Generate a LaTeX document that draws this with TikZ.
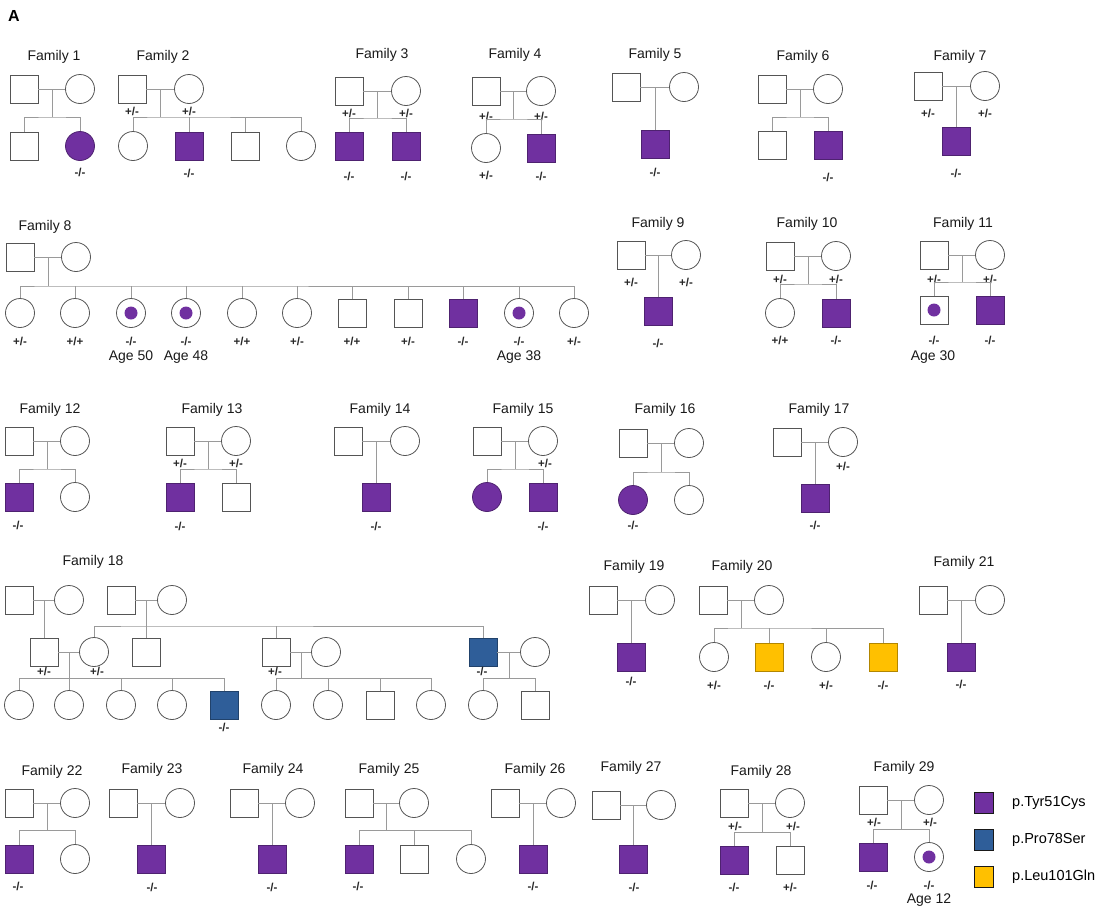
\documentclass[tikz,border=0pt]{standalone}
\usepackage{fontspec}
\setmainfont{Liberation Sans}
\usetikzlibrary{calc}

\definecolor{ctyr}{HTML}{7030A0}
\definecolor{cpro}{HTML}{2F5E99}
\definecolor{cleu}{HTML}{FFC000}
\definecolor{cedge}{HTML}{555555}
\definecolor{cwire}{HTML}{9A9A9A}

\tikzset{
  male/.style={rectangle, draw=cedge, line width=0.8pt, minimum size=28pt, inner sep=0pt},
  female/.style={circle, draw=cedge, line width=0.8pt, minimum size=29pt, inner sep=0pt},
  tyr/.style={fill=ctyr, draw=ctyr!70!black},
  pro/.style={fill=cpro, draw=cpro!70!black},
  leu/.style={fill=cleu, draw=cleu!70!black},
  carrier/.style={path picture={\fill[ctyr] (path picture bounding box.center) circle (6.5pt);}},
  wire/.style={draw=cwire, line width=0.8pt},
  fam/.style={font=\fontsize{14}{16}\selectfont, text=black!90, inner sep=0pt},
  gt/.style={font=\bfseries\fontsize{11.5}{13}\selectfont, text=black!85, inner sep=0pt},
  age/.style={font=\fontsize{14}{16}\selectfont, text=black!90, inner sep=0pt},
  key/.style={rectangle, draw=black!90, line width=1.8pt, minimum width=19pt, minimum height=21pt, inner sep=0pt},
  keytext/.style={font=\fontsize{14.5}{16}\selectfont, anchor=west, inner sep=0pt},
}

\begin{document}
\begin{tikzpicture}[x=1pt,y=-1pt]
\useasboundingbox (0,0) rectangle (1100,913);
\node[font=\bfseries\fontsize{16}{18}\selectfont] (lblA) at (14,16) {A};

% Family 1
\node[fam] (t1) at (54,57) {Family 1};
\node[male] (f1a) at (24,89) {};
\node[female] (f1b) at (80,89) {};
\node[male] (f1c) at (24,146) {};
\node[female,tyr] (f1d) at (80,146) {};
\node[gt] (g1d) at (80,172) {-/-};
\draw[wire] (f1a) -- (f1b);
\draw[wire] ($(f1a)!.5!(f1b)$) -- ++(0,28) coordinate (s1);
\draw[wire] (f1c) |- (s1) -| (f1d);

% Family 2
\node[fam] (t2) at (163,57) {Family 2};
\node[male] (f2a) at (132,89) {};
\node[female] (f2b) at (189,89) {};
\node[gt] (g2a) at (132,111) {+/-};
\node[gt] (g2b) at (189,111) {+/-};
\node[female] (f2c) at (133,146) {};
\node[male,tyr] (f2d) at (189,146) {};
\node[male] (f2e) at (245,146) {};
\node[female] (f2f) at (301,146) {};
\node[gt] (g2d) at (189,173) {-/-};
\draw[wire] (f2a) -- (f2b);
\draw[wire] ($(f2a)!.5!(f2b)$) -- ++(0,28) coordinate (s2);
\draw[wire] (f2c) |- (s2) -| (f2f);
\draw[wire] (f2d) -- (f2d |- s2);
\draw[wire] (f2e) -- (f2e |- s2);

% Family 3
\node[fam] (t3) at (382,55) {Family 3};
\node[male] (f3a) at (349,91) {};
\node[female] (f3b) at (406,91) {};
\node[gt] (g3a) at (349,113) {+/-};
\node[gt] (g3b) at (406,113) {+/-};
\node[male,tyr] (f3c) at (349,146) {};
\node[male,tyr] (f3d) at (406,146) {};
\node[gt] (g3c) at (349,176) {-/-};
\node[gt] (g3d) at (406,176) {-/-};
\draw[wire] (f3a) -- (f3b);
\draw[wire] ($(f3a)!.5!(f3b)$) -- ++(0,27) coordinate (s3);
\draw[wire] (f3c) |- (s3) -| (f3d);

% Family 4
\node[fam] (t4) at (515,55) {Family 4};
\node[male] (f4a) at (486,91) {};
\node[female] (f4b) at (541,91) {};
\node[gt] (g4a) at (486,116) {+/-};
\node[gt] (g4b) at (541,116) {+/-};
\node[female] (f4c) at (486,148) {};
\node[male,tyr] (f4d) at (541,148) {};
\node[gt] (g4c) at (486,175) {+/-};
\node[gt] (g4d) at (541,176) {-/-};
\draw[wire] (f4a) -- (f4b);
\draw[wire] ($(f4a)!.5!(f4b)$) -- ++(0,28) coordinate (s4);
\draw[wire] (f4c) |- (s4) -| (f4d);

% Family 5
\node[fam] (t5) at (655,55) {Family 5};
\node[male] (f5a) at (626,87) {};
\node[female] (f5b) at (684,87) {};
\node[male,tyr] (f5c) at (655,144) {};
\node[gt] (g5c) at (655,172) {-/-};
\draw[wire] (f5a) -- (f5b);
\draw[wire] ($(f5a)!.5!(f5b)$) -- (f5c);

% Family 6
\node[fam] (t6) at (803,57) {Family 6};
\node[male] (f6a) at (772,89) {};
\node[female] (f6b) at (828,89) {};
\node[male] (f6c) at (772,145) {};
\node[male,tyr] (f6d) at (828,145) {};
\node[gt] (g6d) at (828,177) {-/-};
\draw[wire] (f6a) -- (f6b);
\draw[wire] ($(f6a)!.5!(f6b)$) -- ++(0,28) coordinate (s6);
\draw[wire] (f6c) |- (s6) -| (f6d);

% Family 7
\node[fam] (t7) at (960,57) {Family 7};
\node[male] (f7a) at (928,86) {};
\node[female] (f7b) at (985,86) {};
\node[gt] (g7a) at (928,113) {+/-};
\node[gt] (g7b) at (985,113) {+/-};
\node[male,tyr] (f7c) at (956.5,141) {};
\node[gt] (g7c) at (956,173) {-/-};
\draw[wire] (f7a) -- (f7b);
\draw[wire] ($(f7a)!.5!(f7b)$) -- (f7c);

% Family 8
\node[fam] (t8) at (45,227) {Family 8};
\node[male] (f8a) at (20,257) {};
\node[female] (f8b) at (76,257) {};
\node[female] (f8c) at (20,313) {};
\node[female] (f8d) at (75,313) {};
\node[female,carrier] (f8e) at (131,313) {};
\node[female,carrier] (f8f) at (186,313) {};
\node[female] (f8g) at (242,313) {};
\node[female] (f8h) at (297,313) {};
\node[male] (f8i) at (352,313) {};
\node[male] (f8j) at (408,313) {};
\node[male,tyr] (f8k) at (463,313) {};
\node[female,carrier] (f8l) at (519,313) {};
\node[female] (f8m) at (574,313) {};
\node[gt] (g8c) at (20,341) {+/-};
\node[gt] (g8d) at (75,341) {+/+};
\node[gt] (g8e) at (131,341) {-/-};
\node[gt] (g8f) at (186,341) {-/-};
\node[gt] (g8g) at (242,341) {+/+};
\node[gt] (g8h) at (297,341) {+/-};
\node[gt] (g8i) at (352,341) {+/+};
\node[gt] (g8j) at (408,341) {+/-};
\node[gt] (g8k) at (463,341) {-/-};
\node[gt] (g8l) at (519,341) {-/-};
\node[gt] (g8m) at (574,341) {+/-};
\node[age] (a8e) at (131,357) {Age 50};
\node[age] (a8f) at (186,357) {Age 48};
\node[age] (a8l) at (519,357) {Age 38};
\draw[wire] (f8a) -- (f8b);
\draw[wire] ($(f8a)!.5!(f8b)$) -- ++(0,29) coordinate (s8);
\draw[wire] (f8c) |- (s8) -| (f8m);
\foreach \k in {d,e,f,g,h,i,j,k,l}
  \draw[wire] (f8\k) -- (f8\k |- s8);

% Family 9
\node[fam] (t9) at (658,224) {Family 9};
\node[male] (f9a) at (631,255) {};
\node[female] (f9b) at (686,255) {};
\node[gt] (g9a) at (631,282) {+/-};
\node[gt] (g9b) at (686,282) {+/-};
\node[male,tyr] (f9c) at (658.5,311) {};
\node[gt] (g9c) at (658,343) {-/-};
\draw[wire] (f9a) -- (f9b);
\draw[wire] ($(f9a)!.5!(f9b)$) -- (f9c);

% Family 10
\node[fam] (t10) at (807,224) {Family 10};
\node[male] (f10a) at (780,256) {};
\node[female] (f10b) at (836,256) {};
\node[gt] (g10a) at (780,279) {+/-};
\node[gt] (g10b) at (836,279) {+/-};
\node[female] (f10c) at (780,313) {};
\node[male,tyr] (f10d) at (836,313) {};
\node[gt] (g10c) at (780,340) {+/+};
\node[gt] (g10d) at (836,340) {-/-};
\draw[wire] (f10a) -- (f10b);
\draw[wire] ($(f10a)!.5!(f10b)$) -- ++(0,28) coordinate (s10);
\draw[wire] (f10c) |- (s10) -| (f10d);

% Family 11
\node[fam] (t11) at (963,224) {Family 11};
\node[male] (f11a) at (934,255) {};
\node[female] (f11b) at (990,255) {};
\node[gt] (g11a) at (934,279) {+/-};
\node[gt] (g11b) at (990,279) {+/-};
\node[male,carrier] (f11c) at (934,310) {};
\node[male,tyr] (f11d) at (990,310) {};
\node[gt] (g11c) at (934,340) {-/-};
\node[gt] (g11d) at (990,340) {-/-};
\node[age] (a11c) at (933,357) {Age 30};
\draw[wire] (f11a) -- (f11b);
\draw[wire] ($(f11a)!.5!(f11b)$) -- ++(0,27) coordinate (s11);
\draw[wire] (f11c) |- (s11) -| (f11d);

% Family 12
\node[fam] (t12) at (50,410) {Family 12};
\node[male] (f12a) at (19,441) {};
\node[female] (f12b) at (75,441) {};
\node[male,tyr] (f12c) at (19,497) {};
\node[female] (f12d) at (75,497) {};
\node[gt] (g12c) at (18,525) {-/-};
\draw[wire] (f12a) -- (f12b);
\draw[wire] ($(f12a)!.5!(f12b)$) -- ++(0,28) coordinate (s12);
\draw[wire] (f12c) |- (s12) -| (f12d);

% Family 13
\node[fam] (t13) at (212,410) {Family 13};
\node[male] (f13a) at (180,441) {};
\node[female] (f13b) at (236,441) {};
\node[gt] (g13a) at (180,463) {+/-};
\node[gt] (g13b) at (236,463) {+/-};
\node[male,tyr] (f13c) at (180,497) {};
\node[male] (f13d) at (236,497) {};
\node[gt] (g13c) at (180,526) {-/-};
\draw[wire] (f13a) -- (f13b);
\draw[wire] ($(f13a)!.5!(f13b)$) -- ++(0,28) coordinate (s13);
\draw[wire] (f13c) |- (s13) -| (f13d);

% Family 14
\node[fam] (t14) at (380,410) {Family 14};
\node[male] (f14a) at (348,441) {};
\node[female] (f14b) at (405,441) {};
\node[male,tyr] (f14c) at (376.5,497) {};
\node[gt] (g14c) at (376,526) {-/-};
\draw[wire] (f14a) -- (f14b);
\draw[wire] ($(f14a)!.5!(f14b)$) -- (f14c);

% Family 15
\node[fam] (t15) at (523,410) {Family 15};
\node[male] (f15a) at (487,441) {};
\node[female] (f15b) at (543,441) {};
\node[gt] (g15b) at (545,463) {+/-};
\node[female,tyr] (f15c) at (487,497) {};
\node[male,tyr] (f15d) at (543,497) {};
\node[gt] (g15d) at (543,526) {-/-};
\draw[wire] (f15a) -- (f15b);
\draw[wire] ($(f15a)!.5!(f15b)$) -- ++(0,28) coordinate (s15);
\draw[wire] (f15c) |- (s15) -| (f15d);

% Family 16
\node[fam] (t16) at (665,410) {Family 16};
\node[male] (f16a) at (633,443) {};
\node[female] (f16b) at (689,443) {};
\node[female,tyr] (f16c) at (633,500) {};
\node[female] (f16d) at (689,500) {};
\node[gt] (g16c) at (633,525) {-/-};
\draw[wire] (f16a) -- (f16b);
\draw[wire] ($(f16a)!.5!(f16b)$) -- ++(0,29) coordinate (s16);
\draw[wire] (f16c) |- (s16) -| (f16d);

% Family 17
\node[fam] (t17) at (819,410) {Family 17};
\node[male] (f17a) at (787,442) {};
\node[female] (f17b) at (843,442) {};
\node[gt] (g17b) at (843,466) {+/-};
\node[male,tyr] (f17c) at (815,498) {};
\node[gt] (g17c) at (815,525) {-/-};
\draw[wire] (f17a) -- (f17b);
\draw[wire] ($(f17a)!.5!(f17b)$) -- (f17c);

% Family 18
\node[fam] (t18) at (93,562) {Family 18};
\node[male] (f18a) at (19,600) {};
\node[female] (f18b) at (69,600) {};
\node[male] (f18c) at (121,600) {};
\node[female] (f18d) at (172,600) {};
\node[male] (f18e) at (44,652) {};
\node[female] (f18f) at (94,652) {};
\node[male] (f18g) at (146.5,652) {};
\node[male] (f18h) at (276,652) {};
\node[female] (f18i) at (326,652) {};
\node[male,pro] (f18j) at (483,652) {};
\node[female] (f18k) at (535,652) {};
\node[female] (f18l) at (19,705) {};
\node[female] (f18m) at (69,705) {};
\node[female] (f18n) at (121,705) {};
\node[female] (f18o) at (172,705) {};
\node[male,pro] (f18p) at (224,705) {};
\node[female] (f18q) at (276,705) {};
\node[female] (f18r) at (328,705) {};
\node[male] (f18s) at (380,705) {};
\node[female] (f18t) at (431,705) {};
\node[female] (f18u) at (483,705) {};
\node[male] (f18v) at (535,705) {};
\node[gt] (g18e) at (44,671) {+/-};
\node[gt] (g18f) at (97,671) {+/-};
\node[gt] (g18h) at (275,671) {+/-};
\node[gt] (g18j) at (482,671) {-/-};
\node[gt] (g18p) at (224,727) {-/-};
\draw[wire] (f18a) -- (f18b);
\draw[wire] (f18c) -- (f18d);
\draw[wire] ($(f18a)!.5!(f18b)$) -- (f18e);
\draw[wire] ($(f18c)!.5!(f18d)$) -- (f18g);
\path ($(f18c)!.5!(f18d)$) ++(0,26) coordinate (s18a);
\draw[wire] (f18f) |- (s18a) -| (f18j);
\draw[wire] (f18h) -- (f18h |- s18a);
\draw[wire] (f18e) -- (f18f);
\draw[wire] ($(f18e)!.5!(f18f)$) -- ++(0,26) coordinate (s18b);
\draw[wire] (f18l) |- (s18b) -| (f18p);
\foreach \k in {m,n,o}
  \draw[wire] (f18\k) -- (f18\k |- s18b);
\draw[wire] (f18h) -- (f18i);
\draw[wire] ($(f18h)!.5!(f18i)$) -- ++(0,26) coordinate (s18c);
\draw[wire] (f18q) |- (s18c) -| (f18t);
\foreach \k in {r,s}
  \draw[wire] (f18\k) -- (f18\k |- s18c);
\draw[wire] (f18j) -- (f18k);
\draw[wire] ($(f18j)!.5!(f18k)$) -- ++(0,26) coordinate (s18d);
\draw[wire] (f18u) |- (s18d) -| (f18v);

% Family 19
\node[fam] (t19) at (634,567) {Family 19};
\node[male] (f19a) at (603,600) {};
\node[female] (f19b) at (660,600) {};
\node[male,tyr] (f19c) at (631.5,657) {};
\node[gt] (g19c) at (631,681) {-/-};
\draw[wire] (f19a) -- (f19b);
\draw[wire] ($(f19a)!.5!(f19b)$) -- (f19c);

% Family 20
\node[fam] (t20) at (742,567) {Family 20};
\node[male] (f20a) at (713,600) {};
\node[female] (f20b) at (769,600) {};
\node[female] (f20c) at (714,657) {};
\node[male,leu] (f20d) at (769,657) {};
\node[female] (f20e) at (826,657) {};
\node[male,leu] (f20f) at (883,657) {};
\node[gt] (g20c) at (714,685) {+/-};
\node[gt] (g20d) at (769,685) {-/-};
\node[gt] (g20e) at (826,685) {+/-};
\node[gt] (g20f) at (883,685) {-/-};
\draw[wire] (f20a) -- (f20b);
\draw[wire] ($(f20a)!.5!(f20b)$) -- ++(0,28) coordinate (s20);
\draw[wire] (f20c) |- (s20) -| (f20f);
\draw[wire] (f20d) -- (f20d |- s20);
\draw[wire] (f20e) -- (f20e |- s20);

% Family 21
\node[fam] (t21) at (964,563) {Family 21};
\node[male] (f21a) at (933,600) {};
\node[female] (f21b) at (990,600) {};
\node[male,tyr] (f21c) at (961.5,657) {};
\node[gt] (g21c) at (961,684) {-/-};
\draw[wire] (f21a) -- (f21b);
\draw[wire] ($(f21a)!.5!(f21b)$) -- (f21c);

% Family 22
\node[fam] (t22) at (52,772) {Family 22};
\node[male] (f22a) at (19,803) {};
\node[female] (f22b) at (75,803) {};
\node[male,tyr] (f22c) at (19,859) {};
\node[female] (f22d) at (75,859) {};
\node[gt] (g22c) at (18,886) {-/-};
\draw[wire] (f22a) -- (f22b);
\draw[wire] ($(f22a)!.5!(f22b)$) -- ++(0,27) coordinate (s22);
\draw[wire] (f22c) |- (s22) -| (f22d);

% Family 23
\node[fam] (t23) at (152,770) {Family 23};
\node[male] (f23a) at (123,803) {};
\node[female] (f23b) at (180,803) {};
\node[male,tyr] (f23c) at (151.5,859) {};
\node[gt] (g23c) at (152,887) {-/-};
\draw[wire] (f23a) -- (f23b);
\draw[wire] ($(f23a)!.5!(f23b)$) -- (f23c);

% Family 24
\node[fam] (t24) at (273,770) {Family 24};
\node[male] (f24a) at (244,803) {};
\node[female] (f24b) at (300,803) {};
\node[male,tyr] (f24c) at (272,859) {};
\node[gt] (g24c) at (272,887) {-/-};
\draw[wire] (f24a) -- (f24b);
\draw[wire] ($(f24a)!.5!(f24b)$) -- (f24c);

% Family 25
\node[fam] (t25) at (389,770) {Family 25};
\node[male] (f25a) at (359,803) {};
\node[female] (f25b) at (414,803) {};
\node[male,tyr] (f25c) at (359,859) {};
\node[male] (f25d) at (414,859) {};
\node[female] (f25e) at (471,859) {};
\node[gt] (g25c) at (358,886) {-/-};
\draw[wire] (f25a) -- (f25b);
\draw[wire] ($(f25a)!.5!(f25b)$) -- ++(0,27) coordinate (s25);
\draw[wire] (f25c) |- (s25) -| (f25e);
\draw[wire] (f25d) -- (f25d |- s25);

% Family 26
\node[fam] (t26) at (535,770) {Family 26};
\node[male] (f26a) at (505,803) {};
\node[female] (f26b) at (561,803) {};
\node[male,tyr] (f26c) at (533,859) {};
\node[gt] (g26c) at (533,886) {-/-};
\draw[wire] (f26a) -- (f26b);
\draw[wire] ($(f26a)!.5!(f26b)$) -- (f26c);

% Family 27
\node[fam] (t27) at (631,768) {Family 27};
\node[male] (f27a) at (606,805) {};
\node[female] (f27b) at (661,805) {};
\node[male,tyr] (f27c) at (633.5,859) {};
\node[gt] (g27c) at (634,887) {-/-};
\draw[wire] (f27a) -- (f27b);
\draw[wire] ($(f27a)!.5!(f27b)$) -- (f27c);

% Family 28
\node[fam] (t28) at (761,772) {Family 28};
\node[male] (f28a) at (734,803) {};
\node[female] (f28b) at (790,803) {};
\node[gt] (g28a) at (735,826) {+/-};
\node[gt] (g28b) at (793,826) {+/-};
\node[male,tyr] (f28c) at (734,860) {};
\node[male] (f28d) at (790,860) {};
\node[gt] (g28c) at (734,887) {-/-};
\node[gt] (g28d) at (790,887) {+/-};
\draw[wire] (f28a) -- (f28b);
\draw[wire] ($(f28a)!.5!(f28b)$) -- ++(0,29) coordinate (s28);
\draw[wire] (f28c) |- (s28) -| (f28d);

% Family 29
\node[fam] (t29) at (904,768) {Family 29};
\node[male] (f29a) at (873,800) {};
\node[female] (f29b) at (929,800) {};
\node[gt] (g29a) at (874,822) {+/-};
\node[gt] (g29b) at (930,822) {+/-};
\node[male,tyr] (f29c) at (873,857) {};
\node[female,carrier] (f29d) at (929,857) {};
\node[gt] (g29c) at (872,885) {-/-};
\node[gt] (g29d) at (929,885) {-/-};
\node[age] (a29d) at (929,900) {Age 12};
\draw[wire] (f29a) -- (f29b);
\draw[wire] ($(f29a)!.5!(f29b)$) -- ++(0,29) coordinate (s29);
\draw[wire] (f29c) |- (s29) -| (f29d);

% legend
\node[key, fill=ctyr] (k1) at (984,803) {};
\node[key, fill=cpro] (k2) at (984,840) {};
\node[key, fill=cleu] (k3) at (984,877) {};
\node[keytext] (k1t) at (1012,803) {p.Tyr51Cys};
\node[keytext] (k2t) at (1012,840) {p.Pro78Ser};
\node[keytext] (k3t) at (1012,877) {p.Leu101Gln};
\end{tikzpicture}
\end{document}
